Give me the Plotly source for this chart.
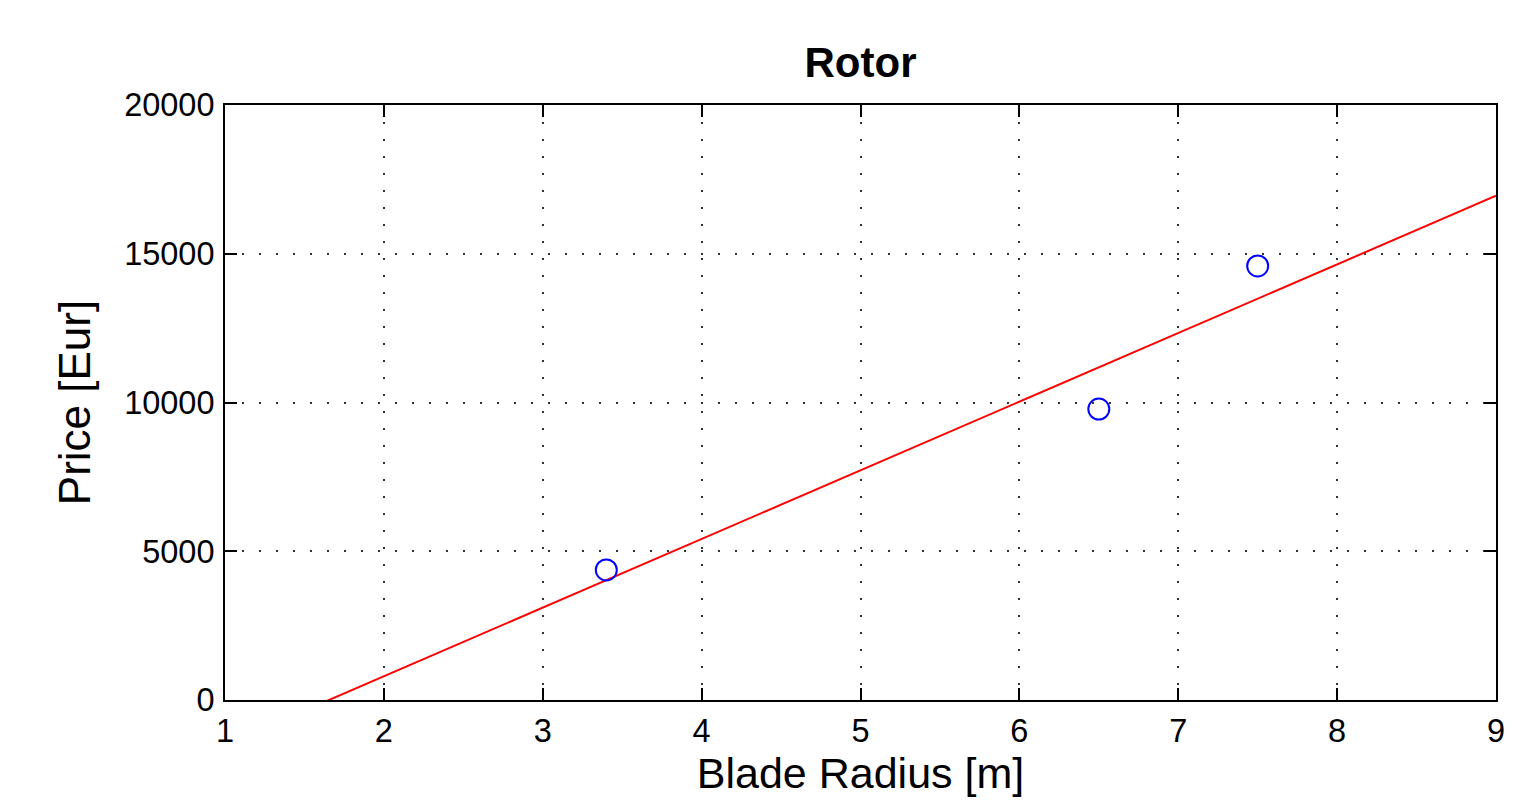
import plotly.graph_objects as go

# Data
radius = [3.4, 6.5, 7.5]
price = [4370, 9780, 14590]

fit_x = [1, 9]
fit_y = [-1510, 16950]

x_ticks = [1, 2, 3, 4, 5, 6, 7, 8, 9]
y_ticks = [0, 5000, 10000, 15000, 20000]

FONT = "Liberation Sans, Arial, Helvetica, sans-serif"

fig = go.Figure()
fig.add_trace(go.Scatter(
    x=fit_x, y=fit_y, mode="lines",
    line=dict(color="#ff0000", width=2),
    showlegend=False, hoverinfo="skip",
))
fig.add_trace(go.Scatter(
    x=radius, y=price, mode="markers",
    marker=dict(symbol="circle-open", size=21, color="#0000ff",
                line=dict(color="#0000ff", width=2)),
    showlegend=False,
))

axis_common = dict(
    showline=True, linecolor="black", linewidth=2, mirror="ticks",
    ticks="inside", ticklen=12, tickwidth=2, tickcolor="black",
    showgrid=True, gridcolor="#333333", gridwidth=1.5, griddash="1.5px,15.5px",
    zeroline=False,
    tickfont=dict(family=FONT, size=32.5, color="black"),
)

fig.update_xaxes(
    range=[1, 9], tickmode="array", tickvals=x_ticks,
    ticktext=[str(v) for v in x_ticks],
    title=dict(text="Blade Radius [m]", font=dict(family=FONT, size=43, color="black"), standoff=6),
    ticklabelstandoff=1,
    **axis_common,
)
fig.update_yaxes(
    range=[0, 20000], tickmode="array", tickvals=y_ticks,
    ticktext=[str(v) for v in y_ticks],
    title=dict(text="Price [Eur]", font=dict(family=FONT, size=44, color="black"), standoff=20),
    ticklabelstandoff=2,
    **axis_common,
)

fig.update_layout(
    width=1524, height=800,
    margin=dict(l=225, r=28, t=105, b=100, autoexpand=False),
    paper_bgcolor="white", plot_bgcolor="white",
    title=dict(text="<b>Rotor</b>", x=(225 + 1496) / 2 / 1524, xanchor="center",
               y=1 - 62 / 800, yanchor="middle",
               font=dict(family=FONT, size=42, color="black")),
)

fig.write_html("out.html")
